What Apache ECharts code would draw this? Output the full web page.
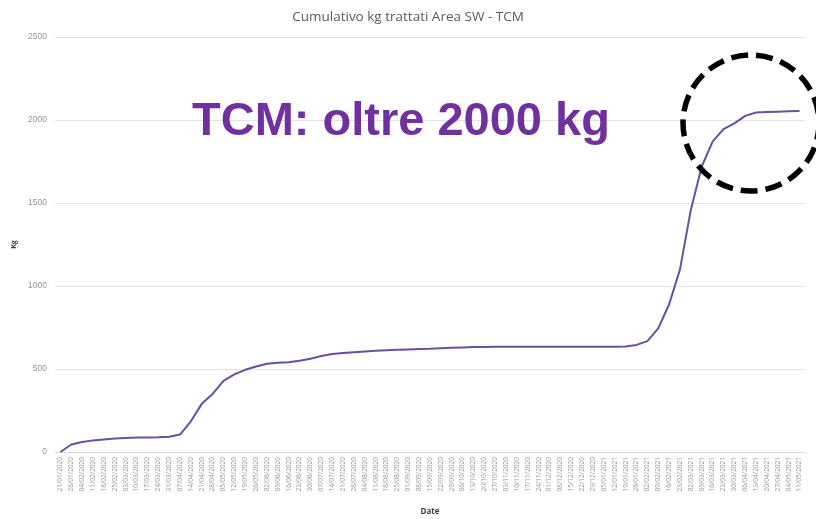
<!DOCTYPE html>
<html>
<head>
<meta charset="utf-8">
<script src="https://cdn.jsdelivr.net/npm/echarts@6/dist/echarts.min.js"></script>
<style>
  html, body { margin: 0; padding: 0; background: #ffffff; }
  #chart { width: 816px; height: 519px; }
</style>
</head>
<body>
<div id="chart"></div>
<script>
// Weekly reporting dates
const dates = [
  '21/01/2020','28/01/2020','04/02/2020','11/02/2020','18/02/2020','25/02/2020',
  '03/03/2020','10/03/2020','17/03/2020','24/03/2020','31/03/2020',
  '07/04/2020','14/04/2020','21/04/2020','28/04/2020',
  '05/05/2020','12/05/2020','19/05/2020','26/05/2020',
  '02/06/2020','09/06/2020','16/06/2020','23/06/2020','30/06/2020',
  '07/07/2020','14/07/2020','21/07/2020','28/07/2020',
  '04/08/2020','11/08/2020','18/08/2020','25/08/2020',
  '01/09/2020','08/09/2020','15/09/2020','22/09/2020','29/09/2020',
  '06/10/2020','13/10/2020','20/10/2020','27/10/2020',
  '03/11/2020','10/11/2020','17/11/2020','24/11/2020',
  '01/12/2020','08/12/2020','15/12/2020','22/12/2020','29/12/2020',
  '05/01/2021','12/01/2021','19/01/2021','26/01/2021',
  '02/02/2021','09/02/2021','16/02/2021','23/02/2021',
  '02/03/2021','09/03/2021','16/03/2021','23/03/2021','30/03/2021',
  '06/04/2021','13/04/2021','20/04/2021','27/04/2021',
  '04/05/2021','11/05/2021'
];

// Cumulative kg treated (TCM)
const cumulativeKg = [
  0, 45, 60, 70, 76, 81,
  85, 87, 88, 89, 92,
  105, 185, 290, 350,
  428, 468, 495, 515,
  532, 537, 540, 550, 562,
  578, 590, 596, 601,
  606, 610, 613, 616,
  618, 620, 622, 625, 628,
  630, 632, 633, 634,
  634, 634, 634, 634,
  634, 634, 634, 634, 634,
  634, 634, 636, 645,
  668, 745, 890, 1100,
  1460, 1720, 1870, 1945, 1980,
  2025, 2045, 2048, 2050,
  2052, 2054
];

const yTicks = { min: 0, max: 2500, interval: 500 };

const chart = echarts.init(document.getElementById('chart'), null, { renderer: 'canvas' });

chart.setOption({
  backgroundColor: '#ffffff',
  animation: false,
  title: {
    text: 'Cumulativo kg trattati Area SW - TCM',
    left: 'center',
    top: 5,
    textStyle: {
      fontFamily: 'Open Sans',
      fontSize: 13.5,
      fontWeight: 'normal',
      color: '#595959'
    }
  },
  grid: { left: 55, right: 11, top: 37, bottom: 67, outerBoundsMode: 'none' },
  xAxis: {
    type: 'category',
    data: dates,
    boundaryGap: true,
    name: 'Date',
    nameLocation: 'middle',
    nameGap: 56,
    nameTextStyle: { fontFamily: 'Open Sans', fontSize: 8, fontWeight: 'bold', color: '#404040' },
    axisLine: { lineStyle: { color: '#d9d9d9', width: 1 } },
    axisTick: { show: false },
    axisLabel: {
      interval: 0,
      rotate: 90,
      margin: 5,
      fontFamily: 'Open Sans',
      fontSize: 6.5,
      color: '#959595'
    },
    splitLine: { show: false }
  },
  yAxis: {
    type: 'value',
    min: yTicks.min,
    max: yTicks.max,
    interval: yTicks.interval,
    name: 'Kg',
    nameLocation: 'middle',
    nameGap: 36,
    nameTextStyle: { fontFamily: 'Open Sans', fontSize: 7, fontWeight: 'bold', color: '#404040' },
    axisLine: { show: false },
    axisTick: { show: false },
    axisLabel: {
      margin: 8,
      fontFamily: 'Liberation Sans',
      fontSize: 8.5,
      color: '#959595',
      formatter: (v) => String(v)
    },
    splitLine: { lineStyle: { color: '#e3e3e3', width: 1 } }
  },
  series: [{
    type: 'line',
    data: cumulativeKg,
    showSymbol: false,
    smooth: false,
    lineStyle: { color: '#6b4f9e', width: 2 },
    itemStyle: { color: '#6b4f9e' }
  }],
  graphic: [
    {
      type: 'text',
      left: 192,
      top: 99,
      style: {
        text: 'TCM: oltre 2000 kg',
        font: 'bold 47px "Liberation Sans", Arial, sans-serif',
        fill: '#7030a0'
      },
      z: 10
    },
    {
      type: 'circle',
      shape: { cx: 751, cy: 123, r: 68 },
      style: {
        fill: 'none',
        stroke: '#000000',
        lineWidth: 5.5,
        lineDash: [17, 8]
      },
      z: 10
    }
  ]
});
</script>
</body>
</html>
